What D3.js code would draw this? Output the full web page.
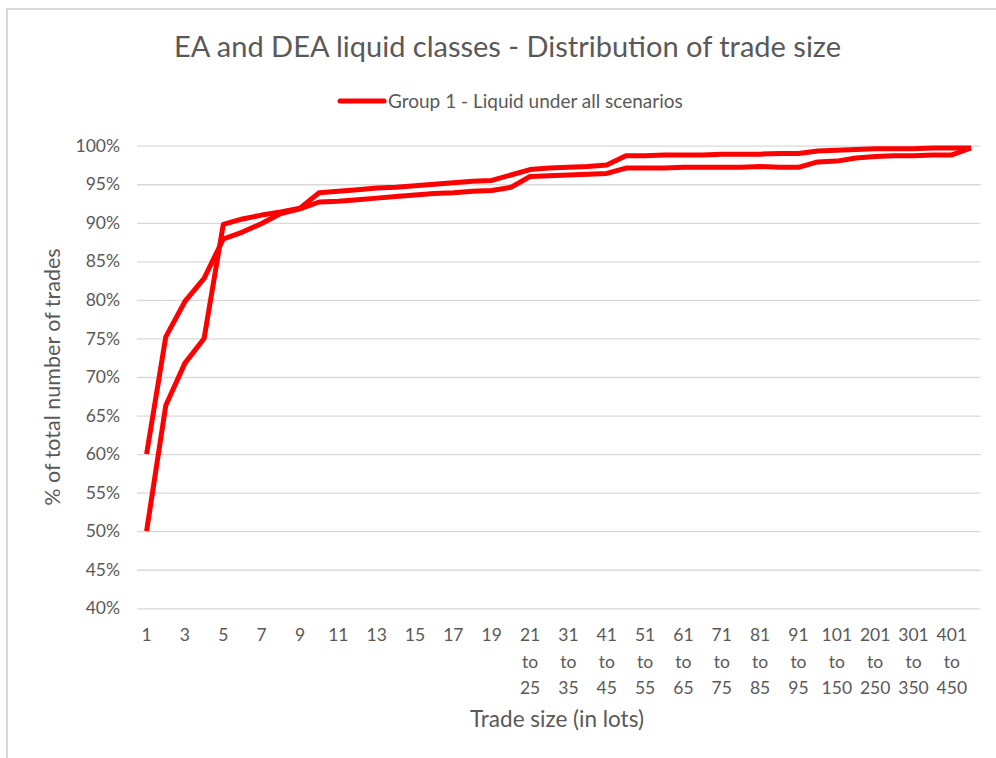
<!DOCTYPE html>
<html>
<head>
<meta charset="utf-8">
<script src="https://cdn.jsdelivr.net/npm/d3@7"></script>
<style>
  html, body { margin: 0; padding: 0; background: #fff; }
  svg { display: block; }
  text { font-family: Lato, "Open Sans", sans-serif; fill: #595959; }
</style>
</head>
<body>
<svg id="chart" width="996" height="758"></svg>
<script>
const titleText = "EA and DEA liquid classes - Distribution of trade size";
const legendLabel = "Group 1 - Liquid under all scenarios";
const xTitle = "Trade size (in lots)";
const yTitle = "% of total number of trades";

const categories = [
  "1","2","3","4","5","6","7","8","9","10",
  "11","12","13","14","15","16","17","18","19","20",
  "21 to 25","26 to 30","31 to 35","36 to 40","41 to 45","46 to 50",
  "51 to 55","56 to 60","61 to 65","66 to 70","71 to 75","76 to 80",
  "81 to 85","86 to 90","91 to 95","96 to 100",
  "101 to 150","151 to 200","201 to 250","251 to 300",
  "301 to 350","351 to 400","401 to 450","451 to 500"
];

const seriesA = [
  50, 66.3, 71.8, 75.0, 89.8, 90.5, 91.0, 91.4, 91.9, 93.9,
  94.1, 94.3, 94.5, 94.6, 94.8, 95.0, 95.2, 95.4, 95.5, 96.2,
  96.9, 97.1, 97.2, 97.3, 97.5, 98.7, 98.7, 98.8, 98.8, 98.8,
  98.9, 98.9, 98.9, 99.0, 99.0, 99.3, 99.4, 99.5, 99.6, 99.6,
  99.6, 99.7, 99.7, 99.7
];

const seriesB = [
  60, 75.2, 79.8, 82.8, 87.9, 88.8, 89.9, 91.2, 91.8, 92.7,
  92.8, 93.0, 93.2, 93.4, 93.6, 93.8, 93.9, 94.1, 94.2, 94.6,
  96.0, 96.1, 96.2, 96.3, 96.4, 97.1, 97.1, 97.1, 97.2, 97.2,
  97.2, 97.2, 97.3, 97.2, 97.2, 97.9, 98.0, 98.4, 98.6, 98.7,
  98.7, 98.8, 98.8, 99.7
];

const yTicks = [40, 45, 50, 55, 60, 65, 70, 75, 80, 85, 90, 95, 100];

const svg = d3.select("#chart");
const plot = { left: 137, right: 980.6, top: 145.7, bottom: 608.3 };

// chart area border
svg.append("rect")
  .attr("x", 7).attr("y", 9)
  .attr("width", 1100).attr("height", 900)
  .attr("fill", "#fff")
  .attr("stroke", "#d9d9d9").attr("stroke-width", 2);

const x = d3.scaleBand()
  .domain(categories)
  .range([plot.left, plot.right])
  .paddingInner(0).paddingOuter(0);

const y = d3.scaleLinear()
  .domain([40, 100])
  .range([plot.bottom, plot.top]);

// Y axis with gridlines
const yAxis = d3.axisLeft(y)
  .tickValues(yTicks)
  .tickFormat(d => d + "%")
  .tickSize(-(plot.right - plot.left))
  .tickPadding(17);

const gy = svg.append("g")
  .attr("transform", `translate(${plot.left},0)`)
  .call(yAxis);
gy.select(".domain").remove();
gy.selectAll(".tick line").attr("stroke", "#d9d9d9").attr("stroke-width", 1.3);
gy.selectAll(".tick text")
  .style("font-family", "Lato, 'Open Sans', sans-serif")
  .style("font-size", "17.5px")
  .style("fill", "#595959");

// X axis labels
const xAxis = d3.axisBottom(x)
  .tickValues(categories.filter((c, i) => i % 2 === 0))
  .tickSize(0)
  .tickPadding(0);

const gx = svg.append("g")
  .attr("transform", `translate(0,${plot.bottom})`)
  .call(xAxis);
gx.select(".domain").remove();
gx.selectAll(".tick text")
  .style("font-family", "Lato, 'Open Sans', sans-serif")
  .style("font-size", "17.5px")
  .style("fill", "#595959")
  .attr("y", 0).attr("dy", null)
  .each(function(d) {
    const t = d3.select(this);
    const parts = d.split(" ");
    t.text(null);
    parts.forEach((p, i) => {
      t.append("tspan")
        .attr("x", 0)
        .attr("y", 33 + i * 26.5)
        .text(p);
    });
  });

// Lines
const line = d3.line()
  .x((d, i) => x(categories[i]) + x.bandwidth() / 2)
  .y(d => y(d));

[seriesA, seriesB].forEach(s => {
  svg.append("path")
    .datum(s)
    .attr("d", line)
    .attr("fill", "none")
    .attr("stroke", "#ff0000")
    .attr("stroke-width", 5)
    .attr("stroke-linejoin", "round");
});

// Title
svg.append("text")
  .attr("x", 507.5).attr("y", 57)
  .attr("text-anchor", "middle")
  .style("font-size", "29px")
  .text(titleText);

// Legend
svg.append("line")
  .attr("x1", 340).attr("x2", 384)
  .attr("y1", 101).attr("y2", 101)
  .attr("stroke", "#ff0000").attr("stroke-width", 5)
  .attr("stroke-linecap", "round");
svg.append("text")
  .attr("x", 388).attr("y", 107.5)
  .style("font-size", "19px")
  .text(legendLabel);

// Axis titles
svg.append("text")
  .attr("x", 557).attr("y", 727)
  .attr("text-anchor", "middle")
  .style("font-size", "22.5px")
  .text(xTitle);

svg.append("text")
  .attr("transform", `translate(60,${(plot.top + plot.bottom) / 2}) rotate(-90)`)
  .attr("text-anchor", "middle")
  .style("font-size", "21.5px")
  .text(yTitle);
</script>
</body>
</html>
